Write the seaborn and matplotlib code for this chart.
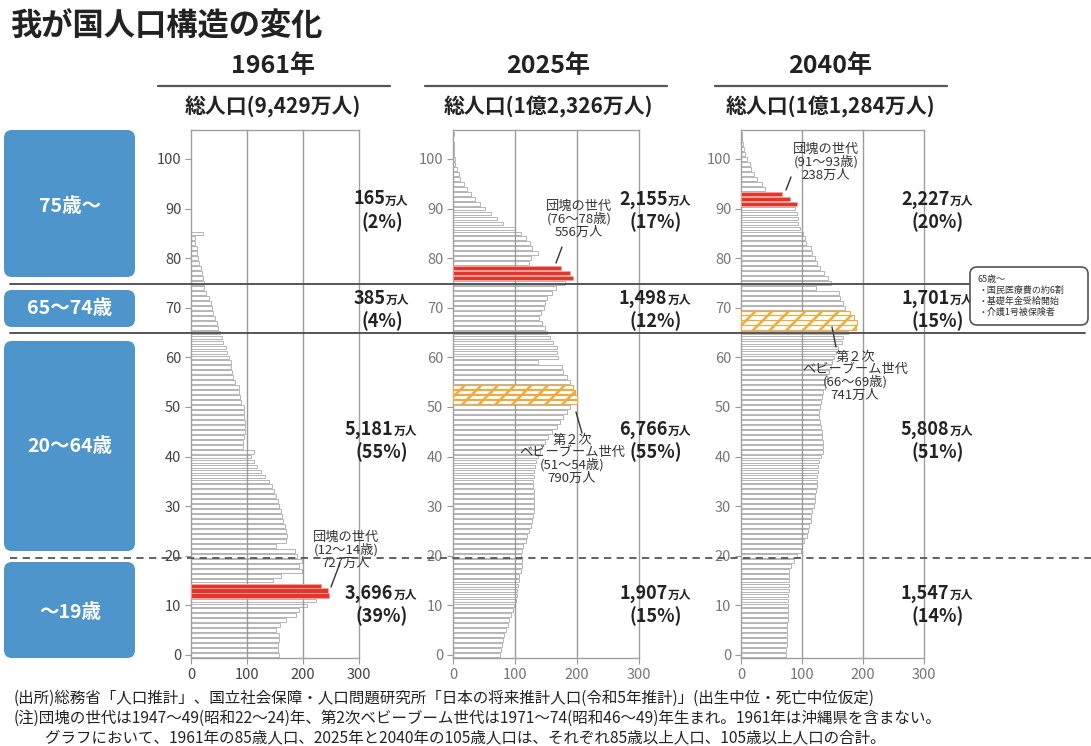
import numpy as np
import pandas as pd
import matplotlib
matplotlib.use('Agg')
import matplotlib.pyplot as plt
import seaborn as sns
from matplotlib.patches import FancyBboxPatch
from matplotlib.lines import Line2D
from matplotlib.offsetbox import TextArea, HPacker, AnnotationBbox

sns.set_style('white')
plt.rcParams['font.family'] = ['Noto Sans CJK JP', 'DejaVu Sans']
plt.rcParams['hatch.linewidth'] = 1.8
plt.rcParams['hatch.color'] = '#f2a93b'

# ---------------- data ----------------
title = '我が国人口構造の変化'
years = ['1961年', '2025年', '2040年']
totals = ['総人口(9,429万人)', '総人口(1億2,326万人)', '総人口(1億1,284万人)']

# population by single age (万人); last value = open-ended top age
pop_1961 = [157, 155, 155, 158, 158, 151, 159, 170, 188, 193,
            208, 223, 246, 244, 232, 147, 161, 199, 193, 199,
            190, 185, 152, 170, 172, 170, 168, 165, 162, 160,
            158, 155, 152, 148, 145, 140, 133, 125, 118, 112,
            108, 113, 93, 93, 95, 96, 96, 96, 95, 95,
            94, 90, 88, 86, 85, 78, 75, 74, 72, 71,
            68, 65, 62, 58, 55, 51, 49, 46, 43, 40,
            38, 35, 32, 27, 24, 23, 21, 19, 17, 15,
            13, 11, 10, 8, 7, 21]
pop_2025 = [75, 78, 79, 81, 83, 85, 88, 91, 94, 96,
            99, 101, 103, 104, 105, 106, 107, 109, 111, 112,
            109, 111, 113, 117, 119, 122, 126, 127, 129, 130,
            131, 131, 131, 130, 129, 129, 130, 131, 133, 134,
            137, 141, 144, 149, 154, 160, 168, 172, 178, 184,
            188, 200, 200, 197, 193, 189, 184, 178, 176, 137,
            170, 168, 168, 162, 157, 152, 149, 144, 138, 142,
            146, 149, 152, 160, 166, 180, 194, 188, 174, 122,
            125, 137, 128, 124, 118, 110, 100, 80, 71, 62,
            52, 44, 36, 29, 23, 17, 12, 9, 6, 4,
            3, 2, 1.5, 1, 0.5, 1.5]
pop_2040 = [73, 74, 75, 75, 76, 76, 76, 77, 77, 77,
            77, 77, 77, 78, 78, 78, 78, 79, 82, 87,
            91, 98, 100, 103, 108, 110, 112, 114, 115, 117,
            119, 121, 122, 123, 124, 124, 125, 126, 126, 128,
            131, 134, 135, 135, 133, 133, 131, 129, 128, 128,
            130, 131, 133, 135, 137, 138, 141, 144, 147, 149,
            152, 155, 159, 166, 168, 175, 188, 190, 185, 178,
            171, 168, 163, 160, 123, 147, 142, 136, 129, 124,
            121, 117, 114, 107, 105, 102, 96, 94, 93, 91,
            89, 91, 80, 67, 40, 34, 27, 21, 17, 14,
            10, 7, 5, 3, 2, 2]
populations = [pop_1961, pop_2025, pop_2040]

dankai_ages = [(12, 14), (76, 78), (91, 93)]
baby2_ages = [None, (51, 54), (66, 69)]
dankai_text = ['団塊の世代\n(12～14歳)\n727万人',
               '団塊の世代\n(76～78歳)\n556万人',
               '団塊の世代\n(91～93歳)\n238万人']
baby2_text = [None,
              '第２次\nベビーブーム世代\n(51～54歳)\n790万人',
              '第２次\nベビーブーム世代\n(66～69歳)\n741万人']

group_names = ['75歳～', '65～74歳', '20～64歳', '～19歳']
group_counts = [['165', '385', '5,181', '3,696'],
                ['2,155', '1,498', '6,766', '1,907'],
                ['2,227', '1,701', '5,808', '1,547']]
group_shares = [['(2%)', '(4%)', '(55%)', '(39%)'],
                ['(17%)', '(12%)', '(55%)', '(15%)'],
                ['(20%)', '(15%)', '(51%)', '(14%)']]
side_note = '65歳～\n・国民医療費の約6割\n・基礎年金受給開始\n・介護1号被保険者'
footnotes = ['(出所)総務省「人口推計」、国立社会保障・人口問題研究所「日本の将来推計人口(令和5年推計)」(出生中位・死亡中位仮定)',
             '(注)団塊の世代は1947～49(昭和22～24)年、第2次ベビーブーム世代は1971～74(昭和46～49)年生まれ。1961年は沖縄県を含まない。',
             '　　グラフにおいて、1961年の85歳人口、2025年と2040年の105歳人口は、それぞれ85歳以上人口、105歳以上人口の合計。']

# ---------------- layout ----------------
W, H = 1091, 746
fig = plt.figure(figsize=(W / 100, H / 100), dpi=100)
fig.patch.set_facecolor('white')


def fx(x):
    return x / W


def fy(y):
    return 1 - y / H


IN = fig.dpi_scale_trans


def rbox(x0, y0, x1, y1, **kw):
    p = FancyBboxPatch((x0 / 100, (H - y1) / 100), (x1 - x0) / 100, (y1 - y0) / 100,
                       transform=IN, **kw)
    fig.add_artist(p)


def hline(x0, x1, y, **kw):
    fig.add_artist(Line2D([fx(x0), fx(x1)], [fy(y), fy(y)], transform=fig.transFigure, **kw))


def seg(p0, p1):
    fig.add_artist(Line2D([fx(p0[0]), fx(p1[0])], [fy(p0[1]), fy(p1[1])],
                          transform=fig.transFigure, color='#333333', lw=1.0))


panel_px = [(191, 359), (453, 639), (741, 924)]
top_px, bot_px = 130, 658
head_cx = [273, 548, 830]
head_lines = [(158, 390), (425, 667), (715, 947)]
label_cx = [381, 655, 937]
num_y = [199, 298, 429, 593]
pct_y = [222, 321, 452, 616]
dankai_pos = [(346, 550), (579, 219), (826, 162)]
baby_pos = [None, (572, 459), (855, 376)]
dankai_lead = [((340, 563), (331, 587)), ((562, 247), (556, 263)), ((791, 177), (786, 190))]
baby_lead = [None, ((576, 412), (582, 433)), ((832, 327), (836, 347))]

fig.text(fx(10), fy(27), title, fontsize=22.5, fontweight='bold', color='#222222',
         ha='left', va='center')

for i, pop in enumerate(populations):
    x0, x1 = panel_px[i]
    ax = fig.add_axes([fx(x0), fy(bot_px), (x1 - x0) / W, (bot_px - top_px) / H])
    ages = np.arange(len(pop))
    df = pd.DataFrame({'age': ages, 'pop': pop})
    df['kind'] = 'normal'
    a0, a1 = dankai_ages[i]
    df.loc[(df.age >= a0) & (df.age <= a1), 'kind'] = 'red'
    if baby2_ages[i] is not None:
        b0, b1 = baby2_ages[i]
        df.loc[(df.age >= b0) & (df.age <= b1), 'kind'] = 'hatch'

    sns.barplot(data=df[df.kind == 'normal'], x='pop', y='age', orient='h', native_scale=True,
                color='white', saturation=1, edgecolor='#b4b4b4', linewidth=0.7,
                width=0.76, errorbar=None, ax=ax, zorder=1)
    for x in (100, 200):
        ax.axvline(x, color='#9a9a9a', lw=1.0, zorder=2)
    sns.barplot(data=df[df.kind == 'red'], x='pop', y='age', orient='h', native_scale=True,
                color='#e4352b', saturation=1, edgecolor='#f3a29c', linewidth=0.6,
                width=0.82, errorbar=None, ax=ax, zorder=3)
    if (df.kind == 'hatch').any():
        sns.barplot(data=df[df.kind == 'hatch'], x='pop', y='age', orient='h', native_scale=True,
                    color='white', saturation=1, edgecolor='#f2a93b', linewidth=0.8,
                    hatch='//', width=0.9, errorbar=None, ax=ax, zorder=3)

    ax.set_xlim(0, 300)
    ax.set_ylim((655 - bot_px) / 4.96, (655 - top_px) / 4.96)
    ax.set_xticks([0, 100, 200, 300])
    ax.set_yticks(range(0, 101, 10))
    ax.set_xlabel('')
    ax.set_ylabel('')
    lc = '#444444' if i == 0 else '#777777'
    ax.tick_params(axis='both', length=4, width=0.8, color='#999999', labelsize=10.5,
                   labelcolor=lc, left=True, bottom=True, pad=3)
    for s in ax.spines.values():
        s.set_color('#a0a0a0')
        s.set_linewidth(1.0)
    ax.set_facecolor('none')

    # headers
    fig.text(fx(head_cx[i]), fy(66), years[i], fontsize=18, fontweight='bold',
             color='#222222', ha='center', va='center')
    hl0, hl1 = head_lines[i]
    hline(hl0, hl1, 86, color='#555555', lw=1.6)
    fig.text(fx(head_cx[i]), fy(107), totals[i], fontsize=15, fontweight='bold',
             color='#222222', ha='center', va='center')

    # group totals
    for g in range(4):
        pack = HPacker(children=[
            TextArea(group_counts[i][g], textprops=dict(fontsize=13, fontweight='bold', color='#222222')),
            TextArea('万人', textprops=dict(fontsize=8.5, fontweight='bold', color='#222222'))],
            align='baseline', pad=0, sep=0)
        ab = AnnotationBbox(pack, (fx(label_cx[i]), fy(num_y[g])), xycoords='figure fraction',
                            frameon=False, box_alignment=(0.5, 0.5), pad=0)
        fig.add_artist(ab)
        fig.text(fx(label_cx[i] + 1), fy(pct_y[g]), group_shares[i][g], fontsize=13,
                 fontweight='bold', color='#222222', ha='center', va='center')

    # annotations
    dx, dy = dankai_pos[i]
    fig.text(fx(dx), fy(dy), dankai_text[i], fontsize=9.5, color='#333333', ha='center',
             va='center', linespacing=0.98)
    seg(*dankai_lead[i])
    if baby_pos[i] is not None:
        bx, by = baby_pos[i]
        fig.text(fx(bx), fy(by), baby2_text[i], fontsize=9.5, color='#333333', ha='center',
                 va='center', linespacing=0.95)
        seg(*baby_lead[i])

# age-group boxes
boxes = [(130, 277, 206), (290, 327, 309), (341, 551, 447), (562, 658, 612)]
for (y0, y1, ty), name in zip(boxes, group_names):
    rbox(4, y0, 135, y1, boxstyle='round,pad=0,rounding_size=0.08',
         facecolor='#4d95cb', edgecolor='none')
    fig.text(fx(70), fy(ty), name, fontsize=14, fontweight='bold', color='white',
             ha='center', va='center')

# separators
hline(10, 970, 283.5, color='#555555', lw=1.4, zorder=5)
hline(10, 1085, 332.5, color='#555555', lw=1.4, zorder=5)
hline(10, 1091, 557.5, color='#555555', lw=1.3, ls=(0, (4, 3)), zorder=5)

# side note
rbox(970, 267, 1088, 325, boxstyle='round,pad=0,rounding_size=0.07',
     facecolor='white', edgecolor='#555555', linewidth=1.2, zorder=6)
fig.text(fx(978), fy(296), side_note, fontsize=6.5, color='#333333', ha='left', va='center',
         linespacing=1.25, zorder=7)

# footnotes
for k, (t, y) in enumerate(zip(footnotes, [698, 718, 738])):
    fig.text(fx(14), fy(y), t, fontsize=11.2, color='#222222', ha='left', va='center')

fig.savefig('out.png', dpi=100)
